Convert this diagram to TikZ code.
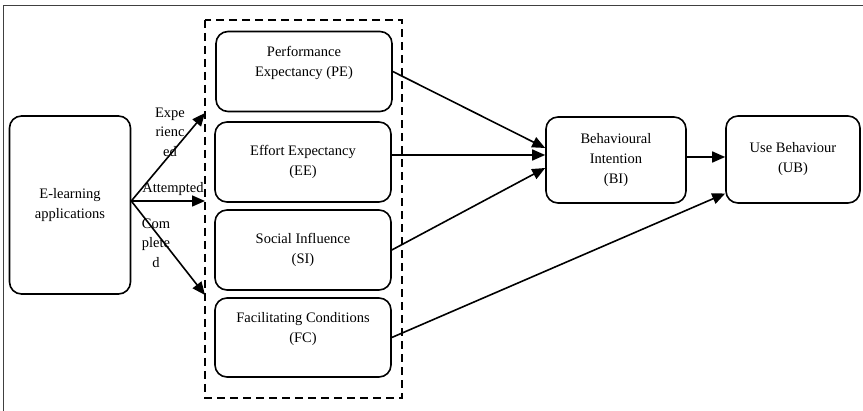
\documentclass[tikz,border=0pt]{standalone}
\usepackage{fontspec}
\setmainfont{Liberation Serif}
\usetikzlibrary{arrows.meta}

\begin{document}
\begin{tikzpicture}
  [ x=1pt, y=-1pt
  , box/.style={rectangle, rounded corners=12pt, draw, line width=1.6pt, align=center, inner sep=0pt, font=\fontsize{14.5}{20}\selectfont}
  , factor/.style={box, minimum width=176pt, minimum height=80pt}
  , lbl/.style={align=center, inner sep=0pt, font=\fontsize{14.5}{19.5}\selectfont}
  , link/.style={->, line width=1.6pt}
  , >={Triangle[length=13pt,width=11pt]}]
  \useasboundingbox (0,0) rectangle (863,411);
  \draw [line width=1.8pt, black!75] (3.5,411) -- (3.5,5.5) -- (863,5.5);
  \node (el) at (70, 205) [box, minimum width=121pt, minimum height=178pt] {E-learning\\applications};
  \node (pe) at (304, 71.5) [factor] {Performance\\Expectancy (PE)\\\mbox{}};
  \node (ee) at (303, 162) [factor] {Effort Expectancy\\(EE)};
  \node (si) at (303, 250) [factor] {Social Influence\\(SI)};
  \node (fc) at (303, 337.5) [factor, minimum height=79pt] {Facilitating Conditions\\(FC)\\\mbox{}};
  \node (bi) at (616, 160) [box, minimum width=140pt, minimum height=86pt] {Behavioural\\Intention\\(BI)};
  \node (ub) at (793, 159.5) [box, minimum width=134pt, minimum height=87pt] {Use Behaviour\\(UB)};
  \draw [dashed, dash pattern=on 8pt off 5pt, line width=1.6pt] (205,20) rectangle (402,398);
  \coordinate (exp) at (205, 113);
  \coordinate (att) at (205, 201);
  \coordinate (com) at (205, 295);
  \draw [link] ([yshift=4pt]el.east) -- (exp);
  \draw [link] ([yshift=4pt]el.east) -- (att);
  \draw [link] ([yshift=4pt]el.east) -- (com);
  \node (exptext) at (170, 132) [lbl] {Expe\\rienc\\ed};
  \node (atttext) at (173, 189) [lbl] {Attempted};
  \node (comtext) at (156, 243) [lbl] {Com\\plete\\d};
  \draw [link] (pe.east) -- ([yshift=12pt]bi.west);
  \draw [link] ([yshift=7pt]ee.east) -- ([yshift=5pt]bi.west);
  \draw [link] (si.east) -- ([yshift=-8pt]bi.west);
  \draw [link] (fc.east) -- ([yshift=-34pt]ub.west);
  \draw [link] ([yshift=3pt]bi.east) -- ([yshift=2.5pt]ub.west);
\end{tikzpicture}
\end{document}
